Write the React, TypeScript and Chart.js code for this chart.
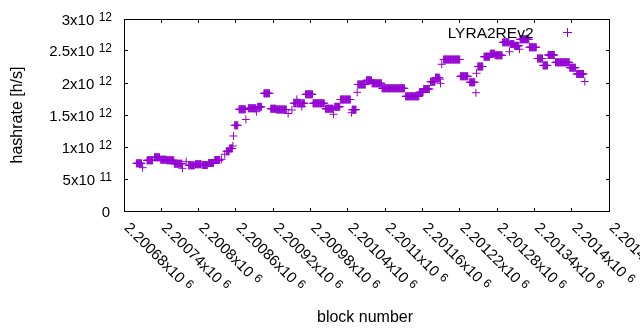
import React, { useEffect, useRef } from 'react';
import { Chart, registerables } from 'chart.js';

Chart.register(...registerables);

// ---- data ----
const seriesName = 'LYRA2REv2';
// runs of consecutive blocks that share the same hashrate estimate
const runStartBlock = [
  2200700, 2200710, 2200717, 2200729, 2200739, 2200749, 2200761, 2200774, 2200780, 2200784,
  2200795, 2200806, 2200816, 2200826, 2200837, 2200842, 2200845, 2200850, 2200855, 2200856,
  2200858, 2200865, 2200876, 2200880, 2200893, 2200895, 2200905, 2200916, 2200925, 2200944,
  2200950, 2200953, 2200958, 2200959, 2200966, 2200967, 2200972, 2200984, 2201004, 2201017,
  2201019, 2201028, 2201046, 2201047, 2201055, 2201056, 2201070, 2201079, 2201095, 2201133,
  2201155, 2201162, 2201173, 2201181, 2201188, 2201189, 2201191, 2201194, 2201221, 2201236,
  2201246, 2201247, 2201249, 2201259, 2201269, 2201277, 2201289, 2201300, 2201301, 2201308,
  2201316, 2201317, 2201332, 2201345, 2201354, 2201362, 2201374, 2201397, 2201408, 2201421,
];
const runEndBlock = [
  2200708, 2200710, 2200726, 2200737, 2200748, 2200760, 2200773, 2200774, 2200780, 2200793,
  2200804, 2200814, 2200824, 2200834, 2200837, 2200842, 2200849, 2200854, 2200855, 2200856,
  2200863, 2200875, 2200876, 2200892, 2200893, 2200901, 2200914, 2200924, 2200941, 2200944,
  2200950, 2200957, 2200958, 2200965, 2200966, 2200970, 2200983, 2201002, 2201016, 2201017,
  2201027, 2201044, 2201046, 2201053, 2201055, 2201068, 2201078, 2201094, 2201131, 2201154,
  2201161, 2201171, 2201180, 2201187, 2201188, 2201189, 2201191, 2201220, 2201233, 2201244,
  2201246, 2201247, 2201257, 2201268, 2201276, 2201288, 2201299, 2201300, 2201307, 2201315,
  2201316, 2201331, 2201343, 2201353, 2201361, 2201372, 2201396, 2201406, 2201419, 2201421,
];
// hashrate in units of 10^12 h/s
const runHashrate = [
  0.745, 0.677, 0.792, 0.839, 0.802, 0.792, 0.739, 0.667, 0.770, 0.714,
  0.730, 0.719, 0.750, 0.797, 0.808, 0.886, 0.933, 0.977, 1.016, 1.172,
  1.339, 1.589, 1.430, 1.605, 1.552, 1.628, 1.839, 1.598, 1.586, 1.523,
  1.578, 1.683, 1.745, 1.683, 1.630, 1.683, 1.823, 1.683, 1.598, 1.511,
  1.628, 1.742, 1.536, 1.583, 1.855, 1.977, 2.042, 1.995, 1.917, 1.792,
  1.855, 1.906, 2.020, 2.083, 2.060, 1.995, 2.292, 2.367, 2.105, 2.011,
  1.848, 2.152, 2.258, 2.411, 2.458, 2.433, 2.636, 2.489, 2.609, 2.581,
  2.528, 2.683, 2.558, 2.383, 2.275, 2.4375, 2.323, 2.239, 2.141, 2.023,
];

const xTickMantissa = [
  '2.20068', '2.20074', '2.2008', '2.20086', '2.20092', '2.20098', '2.20104',
  '2.2011', '2.20116', '2.20122', '2.20128', '2.20134', '2.2014', '2.20146',
];
const xTickExponent = '6';
const yTickMantissa = ['0', '5', '1', '1.5', '2', '2.5', '3'];
const yTickExponent = ['', '11', '12', '12', '12', '12', '12'];
const xAxisTitle = 'block number';
const yAxisTitle = 'hashrate [h/s]';

const xMin = 2200680;
const xMax = 2201460;
const xStep = 60;
const yMin = 0;
const yMax = 3e12;
const yStep = 0.5e12;

const COLOR = '#9400d3';
const FONT = '"Liberation Sans", Arial, sans-serif';
const PAD = { left: 124, right: 31, top: 19, bottom: 119 };
const W = 640;
const H = 330;

const gnuplotDecor = {
  id: 'gnuplotDecor',
  afterDraw(chart: any) {
    const ctx: CanvasRenderingContext2D = chart.ctx;
    const xs = chart.scales.x;
    const ys = chart.scales.y;
    const l = PAD.left;
    const r = W - PAD.right;
    const t0 = PAD.top;
    const b0 = H - PAD.bottom;
    ctx.save();
    ctx.setTransform(1, 0, 0, 1, 0, 0);
    ctx.globalAlpha = 1;
    ctx.globalCompositeOperation = 'source-over';

    // frame (1px lines) and inward mirrored ticks
    ctx.fillStyle = '#000000';
    ctx.fillRect(l, t0, r - l + 1, 1);
    ctx.fillRect(l, b0, r - l + 1, 1);
    ctx.fillRect(l, t0, 1, b0 - t0 + 1);
    ctx.fillRect(r, t0, 1, b0 - t0 + 1);
    const tl = 4;
    xs.ticks.forEach((t: any) => {
      const px = Math.floor(xs.getPixelForValue(t.value));
      ctx.fillRect(px, b0 - tl + 1, 1, tl);
      ctx.fillRect(px, t0, 1, tl);
    });
    ys.ticks.forEach((t: any) => {
      const py = Math.floor(ys.getPixelForValue(t.value));
      ctx.fillRect(l, py, tl, 1);
      ctx.fillRect(r - tl + 1, py, tl, 1);
    });

    const mainFont = '15px ' + FONT;
    const supFont = '12px ' + FONT;
    // y tick labels
    ys.ticks.forEach((t: any, i: number) => {
      const py = Math.floor(ys.getPixelForValue(t.value)) + 0.5;
      const base = py + 5;
      const mant = yTickMantissa[i];
      const exp = yTickExponent[i];
      ctx.textBaseline = 'alphabetic';
      if (!exp) {
        ctx.font = mainFont;
        ctx.textAlign = 'right';
        ctx.fillText(mant, 110, base);
      } else {
        ctx.font = supFont;
        const ws = ctx.measureText(exp).width;
        ctx.textAlign = 'right';
        ctx.fillText(exp, 112, base - 3.5);
        ctx.font = mainFont;
        ctx.fillText(mant + 'x10', 112 - ws - 4.4, base);
      }
    });
    // x tick labels, rotated 45 degrees clockwise
    xs.ticks.forEach((t: any, i: number) => {
      const px = xs.getPixelForValue(t.value);
      ctx.save();
      ctx.translate(px + 3, 225);
      ctx.rotate(Math.PI / 4);
      ctx.textAlign = 'left';
      ctx.textBaseline = 'alphabetic';
      ctx.font = mainFont;
      const txt = xTickMantissa[i] + 'x10';
      ctx.fillText(txt, 0, 5);
      const w = ctx.measureText(txt).width;
      ctx.font = supFont;
      ctx.fillText(xTickExponent, w + 4.4, 1.5);
      ctx.restore();
    });
    // axis titles
    ctx.font = '16px ' + FONT;
    ctx.textAlign = 'center';
    ctx.textBaseline = 'alphabetic';
    ctx.fillText(xAxisTitle, 365, 322);
    ctx.save();
    ctx.translate(21.5, (t0 + b0) / 2);
    ctx.rotate(-Math.PI / 2);
    ctx.fillText(yAxisTitle, 0, 0);
    ctx.restore();
    // key
    ctx.font = '15.5px ' + FONT;
    ctx.textAlign = 'right';
    ctx.fillText(seriesName, 533.5, 37.5);
    ctx.fillStyle = COLOR;
    ctx.fillRect(563, 32, 9, 1);
    ctx.fillRect(567, 28, 1, 9);
    ctx.restore();
  },
};

export default function App() {
  const ref = useRef<HTMLCanvasElement | null>(null);
  useEffect(() => {
    document.body.style.margin = '0';
    const points: { x: number; y: number }[] = [];
    runStartBlock.forEach((s, i) => {
      for (let b = s; b <= runEndBlock[i]; b++) {
        points.push({ x: b, y: runHashrate[i] * 1e12 });
      }
    });
    const chart = new Chart(ref.current as HTMLCanvasElement, {
      type: 'scatter',
      data: {
        datasets: [
          {
            label: seriesName,
            data: points,
            pointStyle: 'cross',
            pointRadius: 4,
            pointBorderWidth: 1,
            pointBorderColor: COLOR,
            pointBackgroundColor: COLOR,
            showLine: false,
          } as any,
        ],
      },
      options: {
        animation: false,
        responsive: false,
        devicePixelRatio: 1,
        layout: { autoPadding: false, padding: PAD },
        plugins: { legend: { display: false }, tooltip: { enabled: false } },
        scales: {
          x: {
            type: 'linear',
            min: xMin,
            max: xMax,
            ticks: { stepSize: xStep, display: false },
            grid: { display: false, drawTicks: false },
            border: { display: true, color: '#000000', width: 1 },
          },
          y: {
            type: 'linear',
            min: yMin,
            max: yMax,
            ticks: { stepSize: yStep, display: false },
            grid: { display: false, drawTicks: false },
            border: { display: true, color: '#000000', width: 1 },
          },
        },
      } as any,
      plugins: [gnuplotDecor],
    });
    return () => chart.destroy();
  }, []);
  return (
    <div style={{ width: W, height: H }}>
      <canvas ref={ref} width={W} height={H} style={{ display: 'block' }} />
    </div>
  );
}
